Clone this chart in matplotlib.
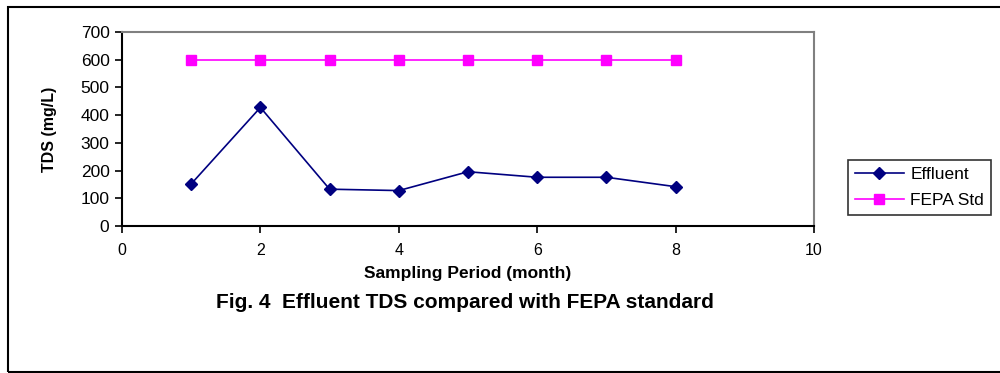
import matplotlib
matplotlib.use("Agg")
import matplotlib.pyplot as plt
from matplotlib.patches import Rectangle

plt.rcParams['font.family'] = ['Liberation Sans', 'DejaVu Sans']

months = [1, 2, 3, 4, 5, 6, 7, 8]
effluent = [152, 428, 133, 128, 196, 176, 176, 142]
fepa_std = [600, 600, 600, 600, 600, 600, 600, 600]
x_ticks = [0, 2, 4, 6, 8, 10]
y_ticks = [0, 100, 200, 300, 400, 500, 600, 700]

fig = plt.figure(figsize=(10, 3.73), dpi=100)
ax = fig.add_axes([0.122, 0.394, 0.692, 0.520])

ax.plot(months, effluent, color='#000080', marker='D', markersize=6.5, linewidth=1.2, label='Effluent')
ax.plot(months, fepa_std, color='#FF00FF', marker='s', markersize=7, linewidth=1.2, label='FEPA Std')

ax.set_xlim(0, 10)
ax.set_ylim(0, 700)
ax.set_xticks(x_ticks)
ax.set_yticks(y_ticks)
ax.tick_params(axis='both', direction='out', length=5, width=1.2)
ax.tick_params(axis='x', pad=7, labelsize=11.5)
ax.tick_params(axis='y', pad=4, labelsize=12.5)

for s in ['left', 'bottom']:
    ax.spines[s].set_color('black')
    ax.spines[s].set_linewidth(1.5)
for s in ['top', 'right']:
    ax.spines[s].set_color('#808080')
    ax.spines[s].set_linewidth(1.5)

ax.set_xlabel('Sampling Period (month)', fontsize=12.5, fontweight='bold', labelpad=6)
ax.set_ylabel('TDS (mg/L)', fontsize=11.5, fontweight='bold', labelpad=17)

fig.text(0.465, 1 - 303 / 373, 'Fig. 4  Effluent TDS compared with FEPA standard',
         ha='center', va='center', fontsize=15, fontweight='bold')

leg = fig.legend(loc='upper left', bbox_to_anchor=(0.848, 1 - 160 / 373),
                 frameon=True, fancybox=False, fontsize=12.5, borderpad=0.4,
                 handlelength=2.8, handletextpad=0.4, labelspacing=0.6, borderaxespad=0)
leg.get_frame().set_edgecolor('black')
leg.get_frame().set_linewidth(1.2)

fig.patches.append(Rectangle((0.008, 0.004), 1.1, 0.977, transform=fig.transFigure,
                             fill=False, edgecolor='black', linewidth=1.5))

fig.savefig('out.png', dpi=100)
